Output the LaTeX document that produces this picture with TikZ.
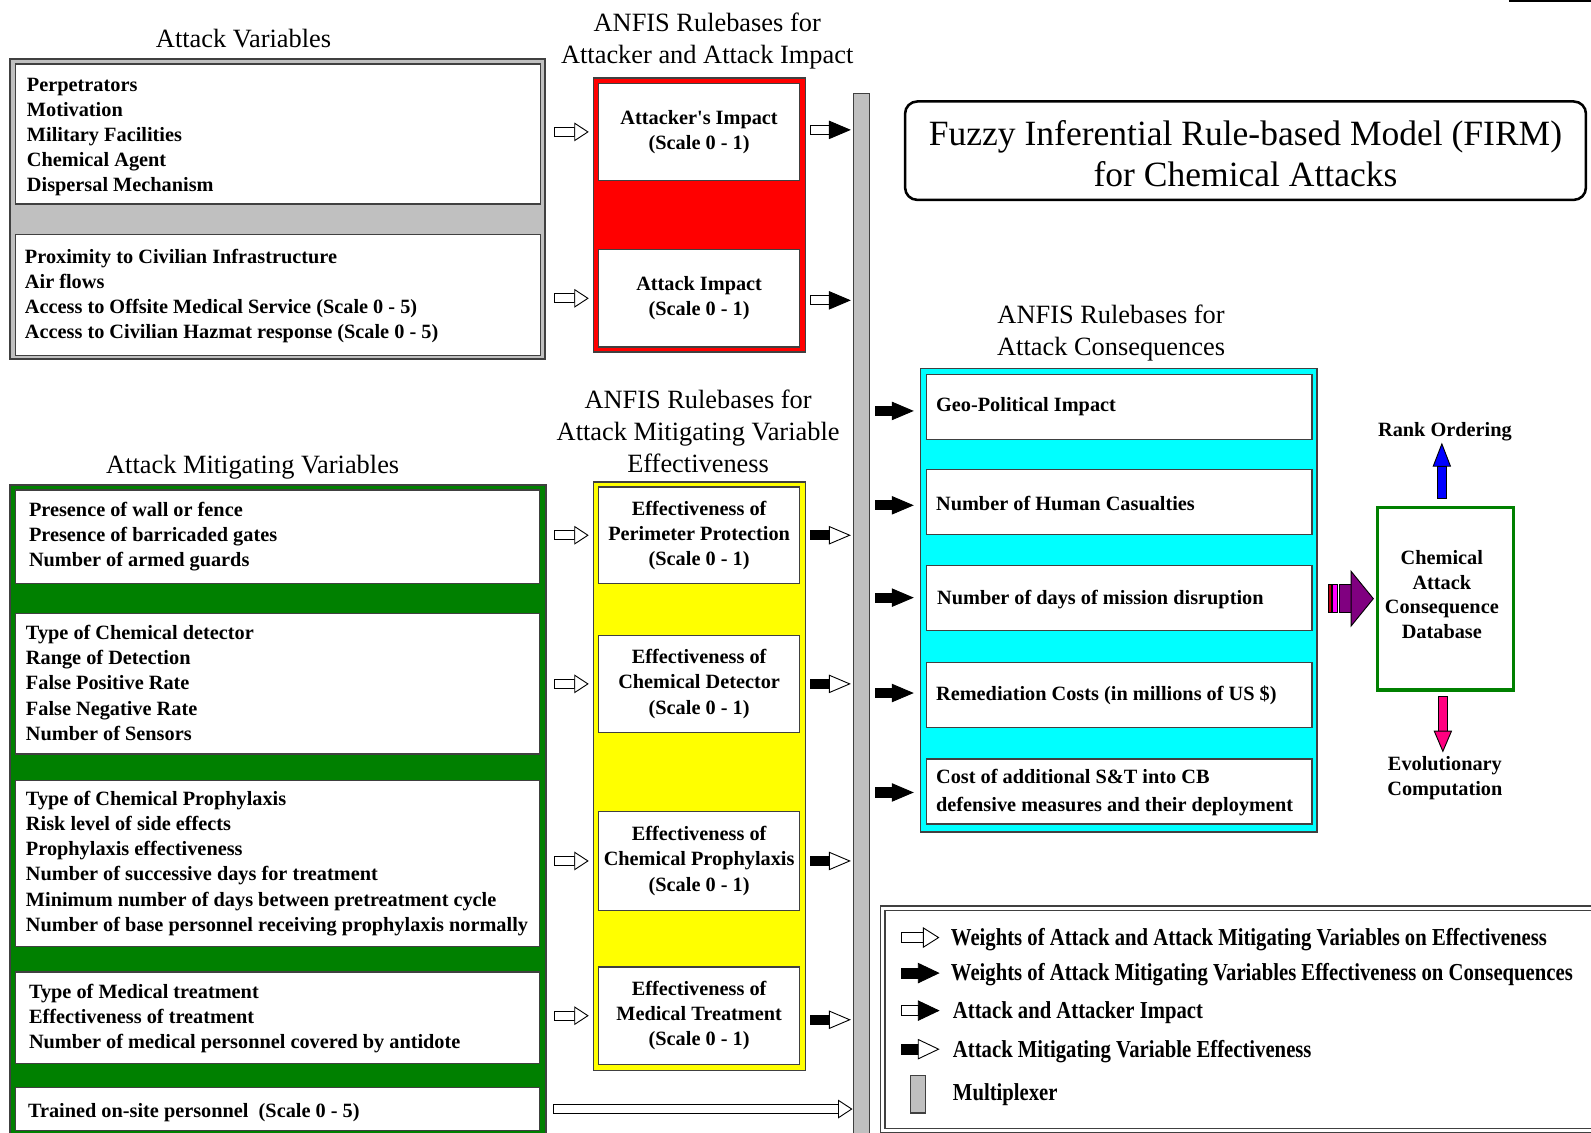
\documentclass[tikz,border=0pt]{standalone}
\usepackage{fontspec}
\setmainfont{Liberation Serif}
\newfontfamily\legendfam{Liberation Serif}[FakeStretch=0.85]
\usetikzlibrary{calc,positioning}

\definecolor{muxgray}{RGB}{192,192,192}
\definecolor{darkgreen}{RGB}{0,128,0}
\definecolor{dbpurple}{RGB}{128,0,128}
\definecolor{hotpink}{RGB}{255,0,128}
\definecolor{purered}{RGB}{255,0,0}
\definecolor{pureyellow}{RGB}{255,255,0}
\definecolor{purecyan}{RGB}{0,255,255}
\definecolor{pureblue}{RGB}{0,0,255}
\definecolor{puremagenta}{RGB}{255,0,255}
\definecolor{darkred}{RGB}{190,0,20}

\newcommand{\boxfont}{\fontsize{20}{24.8}\selectfont\bfseries}
\newcommand{\capfont}{\fontsize{26}{31.5}\selectfont}
\newcommand{\firmfont}{\fontsize{35}{40}\selectfont}
\newcommand{\legfont}{\legendfam\fontsize{24}{28}\selectfont\bfseries}

% block arrow: [head length]{from}{to}{shaft fill}{head fill}
\newcommand{\shaftw}{4.5pt}
\newcommand{\headw}{8.5pt}
\newcommand{\blockarrow}[5][20pt]{%
  \coordinate (ba-h) at ($(#3)!#1!(#2)$);
  \filldraw[fill=#4, line width=0.9pt]
    ($(#2)!\shaftw!90:(#3)$) -- ($(ba-h)!\shaftw!90:(#3)$) --
    ($(ba-h)!\shaftw!-90:(#3)$) -- ($(#2)!\shaftw!-90:(#3)$) -- cycle;
  \filldraw[fill=#5, line width=0.9pt]
    ($(ba-h)!\headw!90:(#3)$) -- (#3) -- ($(ba-h)!\headw!-90:(#3)$) -- cycle;
}

\begin{document}
\begin{tikzpicture}[x=1pt, y=-1pt,
    frame/.style={draw=black!75, line width=1.5pt, inner sep=0pt},
    wbox/.style={draw=black!75, line width=1.2pt, fill=white, inner sep=0pt},
    vtext/.style={font=\boxfont, align=left, anchor=west, inner sep=0pt},
    ctext/.style={font=\boxfont, align=center},
    caption/.style={font=\capfont, align=center},
    legtext/.style={font=\legfont, anchor=west, inner sep=0pt}]
\useasboundingbox (0,0) rectangle (1568,1116);
\draw[line width=2.5pt] (1487,1) -- (1572,1);

% attack variables
\node[caption] (avcap) at (240,38) {Attack Variables};
\node[frame, fill=muxgray, minimum width=527, minimum height=296] (avbox) at (273.5,206) {};
\node[wbox, minimum width=518, minimum height=138] (av1) at (274,132) {};
\node[wbox, minimum width=518, minimum height=119] (av2) at (274,290.5) {};
\node[vtext] (av1t) at ($(av1.west)+(12,3)$) {Perpetrators\\Motivation\\Military Facilities\\Chemical Agent\\Dispersal Mechanism};
\node[vtext] (av2t) at ($(av2.west)+(10,1)$) {Proximity to Civilian Infrastructure\\Air flows\\Access to Offsite Medical Service (Scale 0 - 5)\\Access to Civilian Hazmat response (Scale 0 - 5)};

% attack mitigating variables
\node[caption] (pvcap) at (249,460) {Attack Mitigating Variables};
\node[frame, fill=darkgreen, minimum width=528, minimum height=642] (pvbox) at (274,799) {};
\node[wbox, minimum width=517, minimum height=92] (pv1) at (273.5,529) {};
\node[wbox, minimum width=517, minimum height=138] (pv2) at (273.5,674) {};
\node[wbox, minimum width=517, minimum height=164] (pv3) at (273.5,851) {};
\node[wbox, minimum width=517, minimum height=90] (pv4) at (273.5,1003) {};
\node[wbox, minimum width=517, minimum height=42] (pv5) at (273.5,1093) {};
\node[vtext] (pv1t) at ($(pv1.west)+(14,0)$) {Presence of wall or fence\\Presence of barricaded gates\\Number of armed guards};
\node[vtext] (pv2t) at ($(pv2.west)+(11,-1)$) {Type of Chemical detector\\Range of Detection\\False Positive Rate\\False Negative Rate\\Number of Sensors};
\node[vtext] (pv3t) at ($(pv3.west)+(11,0)$) {Type of Chemical Prophylaxis\\Risk level of side effects\\Prophylaxis effectiveness\\Number of successive days for treatment\\Minimum number of days between pretreatment cycle\\Number of base personnel receiving prophylaxis normally};
\node[vtext] (pv4t) at ($(pv4.west)+(14,1)$) {Type of Medical treatment\\Effectiveness of treatment\\Number of medical personnel covered by antidote};
\node[vtext] (pv5t) at ($(pv5.west)+(13,4)$) {Trained on-site personnel\ \ (Scale 0 - 5)};

% rulebases attacker / attack impact
\node[caption] (rbcap) at (697,40) {ANFIS Rulebases for\\Attacker and Attack Impact};
\node[frame, fill=purered, minimum width=209, minimum height=270] (rbox) at (689.5,212) {};
\node[wbox, ctext, minimum width=198, minimum height=96] (rb1) at (689,130) {Attacker\textquotesingle s Impact\\(Scale 0 - 1)};
\node[wbox, ctext, minimum width=198, minimum height=96] (rb2) at (689,294) {Attack Impact\\(Scale 0 - 1)};

% rulebases mitigating effectiveness
\node[caption] (efcap) at (688,425.5) {ANFIS Rulebases for\\Attack Mitigating Variable\\Effectiveness};
\node[frame, fill=pureyellow, minimum width=209, minimum height=580] (efbox) at (689.5,765) {};
\node[wbox, ctext, minimum width=198, minimum height=95] (ef1) at (689,527.5) {Effectiveness of\\Perimeter Protection\\(Scale 0 - 1)};
\node[wbox, ctext, minimum width=198, minimum height=96] (ef2) at (689,674) {Effectiveness of\\Chemical Detector\\(Scale 0 - 1)};
\node[wbox, ctext, minimum width=198, minimum height=97] (ef3) at (689,848.5) {Effectiveness of\\Chemical Prophylaxis\\(Scale 0 - 1)};
\node[wbox, ctext, minimum width=198, minimum height=96] (ef4) at (689,1001) {Effectiveness of\\Medical Treatment\\(Scale 0 - 1)};

% multiplexer
\node[draw=black!75, line width=1.2pt, fill=muxgray, inner sep=0pt, minimum width=16, minimum height=1028] (mux) at (849,606) {};

% title
\node[draw, line width=2.5pt, rounded corners=12pt, minimum width=671, minimum height=97, font=\firmfont, align=center] (firm) at (1227.5,148.5) {};
\node[font=\firmfont, align=center] (firmt) at ($(firm.center)+(0,3)$) {Fuzzy Inferential Rule-based Model (FIRM)\\for Chemical Attacks};

% consequences
\node[caption] (cscap) at (1095,328) {ANFIS Rulebases for\\Attack Consequences};
\node[frame, fill=purecyan, minimum width=391, minimum height=457] (csbox) at (1102.5,591.5) {};
\node[wbox, minimum width=380, minimum height=64] (cs1) at (1103,401) {};
\node[wbox, minimum width=380, minimum height=64] (cs2) at (1103,495) {};
\node[wbox, minimum width=380, minimum height=64] (cs3) at (1103,589) {};
\node[wbox, minimum width=380, minimum height=64] (cs4) at (1103,685) {};
\node[wbox, minimum width=380, minimum height=64] (cs5) at (1103,780) {};
\node[vtext] (cs1t) at ($(cs1.west)+(10,0)$) {Geo-Political Impact};
\node[vtext] (cs2t) at ($(cs2.west)+(10,1)$) {Number of Human Casualties};
\node[vtext] (cs3t) at ($(cs3.west)+(11,2)$) {Number of days of mission disruption};
\node[vtext] (cs4t) at ($(cs4.west)+(10,0)$) {Remediation Costs (in millions of US \$)};
\node[vtext] (cs5t) at ($(cs5.west)+(10,1)$) {Cost of additional S\&T into CB\\[2pt]defensive measures and their deployment};

% database and outputs
\node[draw=darkgreen, line width=3pt, fill=white, inner sep=0pt, minimum width=134, minimum height=180] (db) at (1425,590) {};
\node[font=\fontsize{20}{24.4}\selectfont\bfseries, align=center] (dbt) at ($(db.center)+(-4,-4)$) {Chemical\\Attack\\Consequence\\Database};
\node[font=\boxfont] (rank) at (1424,425) {Rank Ordering};
\node[font=\boxfont, align=center] (evo) at (1424,767) {Evolutionary\\Computation};

% arrows into rulebases
\coordinate (a1s) at ($(av1.east |- rb1.west)+(13,0)$);  \coordinate (a1e) at ($(rb1.west)+(-10,0)$);
\coordinate (a2s) at ($(av2.east |- rb2.west)+(13,0)$);  \coordinate (a2e) at ($(rb2.west)+(-10,0)$);
\blockarrow[13pt]{a1s}{a1e}{white}{white}
\blockarrow[13pt]{a2s}{a2e}{white}{white}
\coordinate (p1s) at ($(pv1.east |- ef1.west)+(14,0)$);  \coordinate (p1e) at ($(ef1.west)+(-10,0)$);
\coordinate (p2s) at ($(pv2.east |- ef2.west)+(14,0)$);  \coordinate (p2e) at ($(ef2.west)+(-10,0)$);
\coordinate (p3s) at ($(pv3.east |- ef3.west)+(14,0)$);  \coordinate (p3e) at ($(ef3.west)+(-10,0)$);
\coordinate (p4s) at ($(pv4.east |- ef4.west)+(14,0)$);  \coordinate (p4e) at ($(ef4.west)+(-10,0)$);
\blockarrow[13pt]{p1s}{p1e}{white}{white}
\blockarrow[13pt]{p2s}{p2e}{white}{white}
\blockarrow[13pt]{p3s}{p3e}{white}{white}
\blockarrow[13pt]{p4s}{p4e}{white}{white}
\coordinate (p5s) at ($(pv5.east)+(13,0)$);  \coordinate (p5e) at ($(mux.west |- pv5.east)+(-1,0)$);
\blockarrow[13pt]{p5s}{p5e}{white}{white}

% arrows into multiplexer
\coordinate (r1s) at ($(rb1.east)+(10,-2)$);  \coordinate (r1e) at ($(mux.west |- rb1.east)+(-3,-2)$);
\coordinate (r2s) at ($(rb2.east)+(10,2)$);  \coordinate (r2e) at ($(mux.west |- rb2.east)+(-3,2)$);
\blockarrow{r1s}{r1e}{white}{black}
\blockarrow{r2s}{r2e}{white}{black}
\coordinate (e1s) at ($(ef1.east)+(10,0)$);  \coordinate (e1e) at ($(mux.west |- ef1.east)+(-3,0)$);
\coordinate (e2s) at ($(ef2.east)+(10,0)$);  \coordinate (e2e) at ($(mux.west |- ef2.east)+(-3,0)$);
\coordinate (e3s) at ($(ef3.east)+(10,0)$);  \coordinate (e3e) at ($(mux.west |- ef3.east)+(-3,0)$);
\coordinate (e4s) at ($(ef4.east)+(10,4)$);  \coordinate (e4e) at ($(mux.west |- ef4.east)+(-3,4)$);
\blockarrow{e1s}{e1e}{black}{white}
\blockarrow{e2s}{e2e}{black}{white}
\blockarrow{e3s}{e3e}{black}{white}
\blockarrow{e4s}{e4e}{black}{white}

% multiplexer to consequences
\coordinate (m1s) at ($(mux.east |- cs1.west)+(5,4)$);  \coordinate (m1e) at ($(cs1.west)+(-13,4)$);
\coordinate (m2s) at ($(mux.east |- cs2.west)+(5,3)$);  \coordinate (m2e) at ($(cs2.west)+(-13,3)$);
\coordinate (m3s) at ($(mux.east |- cs3.west)+(5,0)$);  \coordinate (m3e) at ($(cs3.west)+(-13,0)$);
\coordinate (m4s) at ($(mux.east |- cs4.west)+(5,-2)$);  \coordinate (m4e) at ($(cs4.west)+(-13,-2)$);
\coordinate (m5s) at ($(mux.east |- cs5.west)+(5,1)$);  \coordinate (m5e) at ($(cs5.west)+(-13,1)$);
\blockarrow{m1s}{m1e}{black}{black}
\blockarrow{m2s}{m2e}{black}{black}
\blockarrow{m3s}{m3e}{black}{black}
\blockarrow{m4s}{m4e}{black}{black}
\blockarrow{m5s}{m5e}{black}{black}

% consequences to database
\renewcommand{\shaftw}{13.8pt}\renewcommand{\headw}{27pt}
\coordinate (dbs) at ($(csbox.east |- db.west)+(21,0)$);  \coordinate (dbe) at ($(db.west)+(-3,0)$);
\blockarrow[22pt]{dbs}{dbe}{dbpurple}{dbpurple}
\filldraw[fill=puremagenta, line width=0.9pt] ($(dbs)+(-7,-13.8)$) rectangle ($(dbs)+(-2,13.8)$);
\filldraw[fill=darkred, line width=0.9pt] ($(dbs)+(-11,-13.8)$) rectangle ($(dbs)+(-8,13.8)$);
\renewcommand{\shaftw}{4.3pt}\renewcommand{\headw}{8.5pt}
\coordinate (rks) at ($(db.north)+(-4,-7)$);  \coordinate (rke) at ($(db.north)+(-4,-61)$);
\blockarrow[22pt]{rks}{rke}{pureblue}{pureblue}
\coordinate (evs) at ($(db.south)+(-3,5)$);  \coordinate (eve) at ($(db.south)+(-3,59)$);
\blockarrow[20pt]{evs}{eve}{hotpink}{hotpink}

% legend
\node[draw=black!75, double, double distance=3pt, line width=1.2pt, inner sep=0pt, minimum width=705, minimum height=219] (legend) at (1222.5,1004.5) {};
\renewcommand{\shaftw}{5pt}\renewcommand{\headw}{9.5pt}
\coordinate (l1s) at (888,924);  \coordinate (l1e) at (925,924);
\coordinate (l2s) at (888,959);  \coordinate (l2e) at (925,959);
\coordinate (l3s) at (888,996);  \coordinate (l3e) at (925,996);
\coordinate (l4s) at (888,1034); \coordinate (l4e) at (925,1034);
\blockarrow[15pt]{l1s}{l1e}{white}{white}
\blockarrow{l2s}{l2e}{black}{black}
\blockarrow{l3s}{l3e}{white}{black}
\blockarrow{l4s}{l4e}{black}{white}
\node[draw=black!75, line width=1.2pt, fill=muxgray, inner sep=0pt, minimum width=15, minimum height=37] (lgmux) at (904.5,1078.5) {};
\node[legtext] (l1t) at (937,926) {Weights of Attack and Attack Mitigating Variables on Effectiveness};
\node[legtext] (l2t) at (937,961) {Weights of Attack Mitigating Variables Effectiveness on Consequences};
\node[legtext] (l3t) at (939,998) {Attack and Attacker Impact};
\node[legtext] (l4t) at (939,1036) {Attack Mitigating Variable Effectiveness};
\node[legtext] (l5t) at (939,1079) {Multiplexer};
\end{tikzpicture}
\end{document}
